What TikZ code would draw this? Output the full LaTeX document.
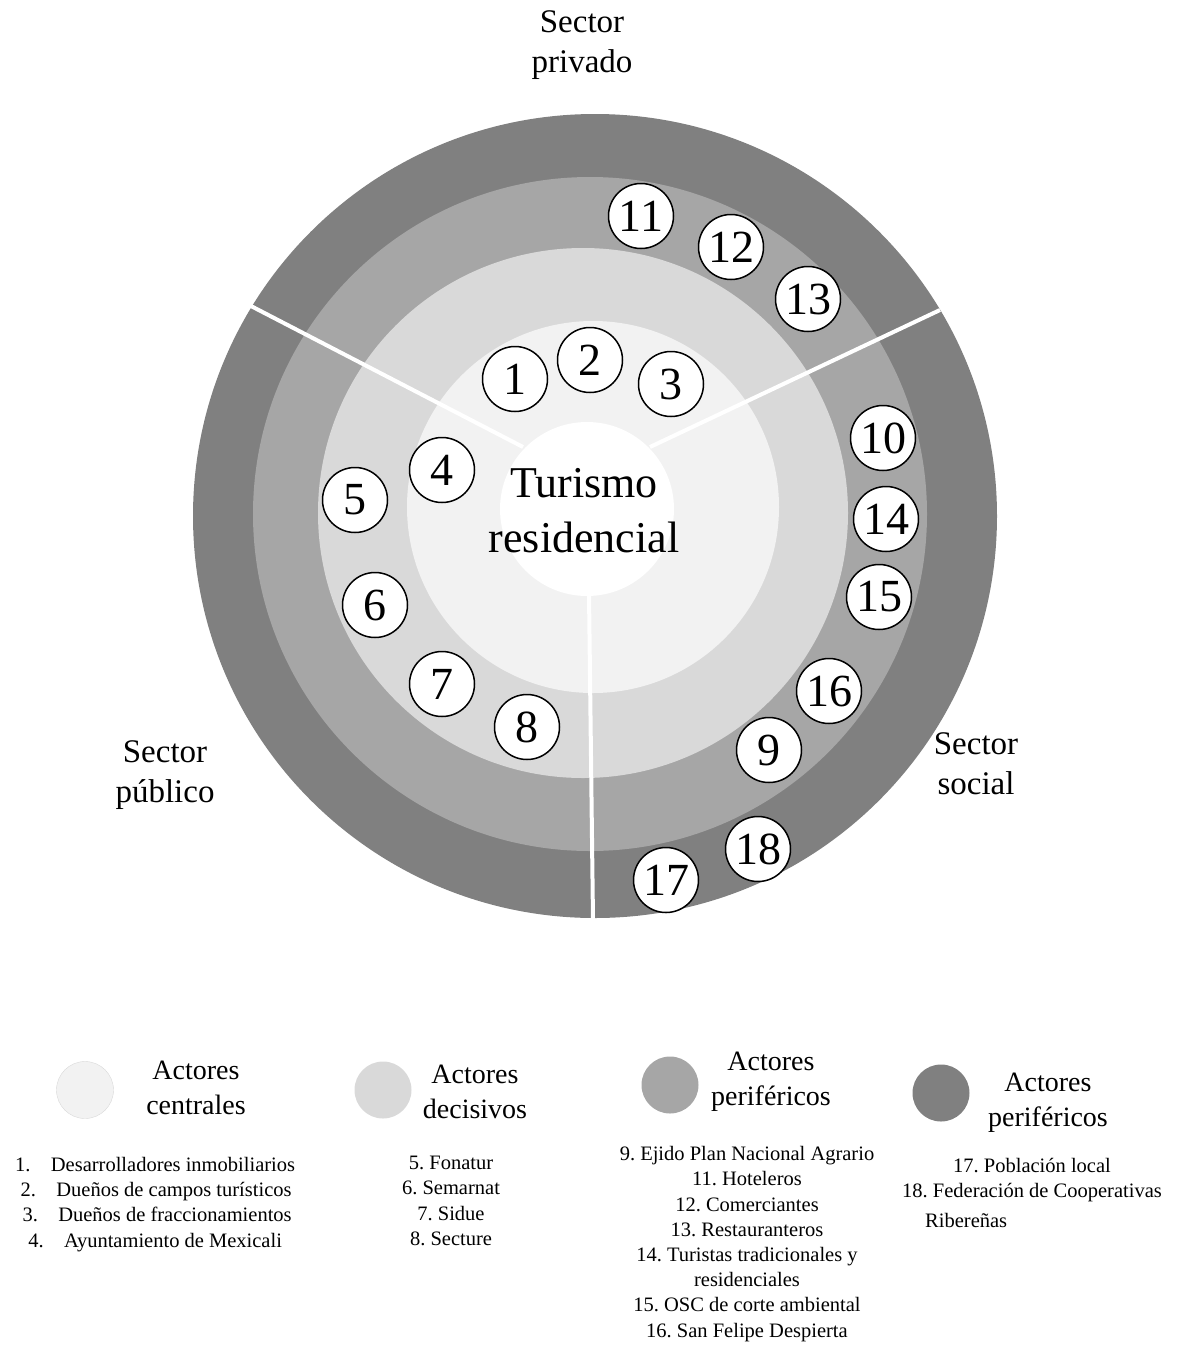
\documentclass[tikz,border=0pt]{standalone}
\usepackage{fontspec}
\setmainfont{Liberation Serif}
\frenchspacing
\definecolor{ringouter}{HTML}{808080}
\definecolor{ringmid}{HTML}{A6A6A6}
\definecolor{ringlight}{HTML}{D9D9D9}
\definecolor{ringcore}{HTML}{F2F2F2}
\begin{document}
\begin{tikzpicture}[x=1pt,y=-1pt,
  actor/.style={circle,draw=black,line width=1.5pt,fill=white,minimum size=65pt,inner sep=0pt,font=\fontsize{46}{46}\selectfont},
  sectorlabel/.style={align=center,font=\fontsize{33}{40}\selectfont},
  divider/.style={white,line width=4pt},
  keydot/.style={circle,minimum size=57pt,inner sep=0pt},
  keytitle/.style={align=center,font=\fontsize{28}{35}\selectfont},
  keylist/.style={align=center,font=\fontsize{20.5}{25.2}\selectfont},
  keyitem/.style={anchor=base,inner sep=0pt,font=\fontsize{20.5}{25.2}\selectfont}]
\useasboundingbox (0,0) rectangle (1177,1347);
\fill[ringouter] (595,516) circle (402pt);
\fill[ringmid] (590,514) circle (337pt);
\fill[ringlight] (583,513) circle (265pt);
\fill[ringcore] (593,507) circle (186pt);
\fill[white] (587,509) circle (87pt);

\coordinate (ulout) at (249,305);
\coordinate (ulin) at (523,447);
\coordinate (urout) at (940,310);
\coordinate (urin) at (650,447);
\coordinate (dnin) at (589,594);
\coordinate (dnout) at (593,920);
\draw[divider] (ulout) -- (ulin);
\draw[divider] (urout) -- (urin);
\draw[divider] (dnin) -- (dnout);

\node[align=center,font=\fontsize{44}{55}\selectfont] (core) at (584,511) {Turismo\\residencial};

\node[actor] (a1) at (515,379) {1};
\node[actor] (a2) at (590,360) {2};
\node[actor] (a3) at (671,384) {3};
\node[actor] (a4) at (442,470) {4};
\node[actor] (a5) at (355,500) {5};
\node[actor] (a6) at (375,605) {6};
\node[actor] (a7) at (442,684) {7};
\node[actor] (a8) at (527,727) {8};
\node[actor] (a9) at (769,750) {9};
\node[actor] (a10) at (883,438) {10};
\node[actor] (a11) at (641,216) {11};
\node[actor] (a12) at (731,247) {12};
\node[actor] (a13) at (808,299) {13};
\node[actor] (a14) at (886,519) {14};
\node[actor] (a15) at (879,597) {15};
\node[actor] (a16) at (829,691) {16};
\node[actor] (a17) at (666,880) {17};
\node[actor] (a18) at (758,849) {18};

\node[sectorlabel] (privado) at (582,45) {Sector\\privado};
\node[sectorlabel] (publico) at (165,775) {Sector\\público};
\node[sectorlabel] (social) at (976,764) {Sector\\social};

\node[keydot,fill=ringcore,draw=ringlight] (kc1) at (85,1090) {};
\node[keydot,fill=ringlight] (kc2) at (383,1090) {};
\node[keydot,fill=ringmid] (kc3) at (670,1085) {};
\node[keydot,fill=ringouter] (kc4) at (941,1093) {};
\node[keytitle] (kt1) at (196,1088) {Actores\\centrales};
\node[keytitle] (kt2) at (475,1092) {Actores\\decisivos};
\node[keytitle] (kt3) at (771,1082) {Actores\\periféricos};
\node[keytitle] (kt4) at (1048,1103) {Actores\\periféricos};

\node[keyitem] (d1) at (173,1171) {Desarrolladores inmobiliarios};
\node[keyitem,anchor=base east] (n1) at ([xshift=-20pt]d1.base west) {1.};
\node[keyitem] (d2) at (174,1196) {Dueños de campos turísticos};
\node[keyitem,anchor=base east] (n2) at ([xshift=-20pt]d2.base west) {2.};
\node[keyitem] (d3) at (175,1221) {Dueños de fraccionamientos};
\node[keyitem,anchor=base east] (n3) at ([xshift=-20pt]d3.base west) {3.};
\node[keyitem] (d4) at (173,1247) {Ayuntamiento de Mexicali};
\node[keyitem,anchor=base east] (n4) at ([xshift=-20pt]d4.base west) {4.};

\node[keylist] (k2) at (451,1201) {5. Fonatur\\6. Semarnat\\7. Sidue\\8. Secture};
\node[keylist] (k3) at (747,1244) {9. Ejido Plan Nacional Agrario\\11. Hoteleros\\12. Comerciantes\\13. Restauranteros\\14. Turistas tradicionales y\\residenciales\\15. OSC de corte ambiental\\16. San Felipe Despierta};
\node[keylist] (k4) at (1032,1180) {17. Población local\\18. Federación de Cooperativas};
\node[keyitem,anchor=west] (k4b) at (925,1220) {Ribereñas};
\end{tikzpicture}
\end{document}
